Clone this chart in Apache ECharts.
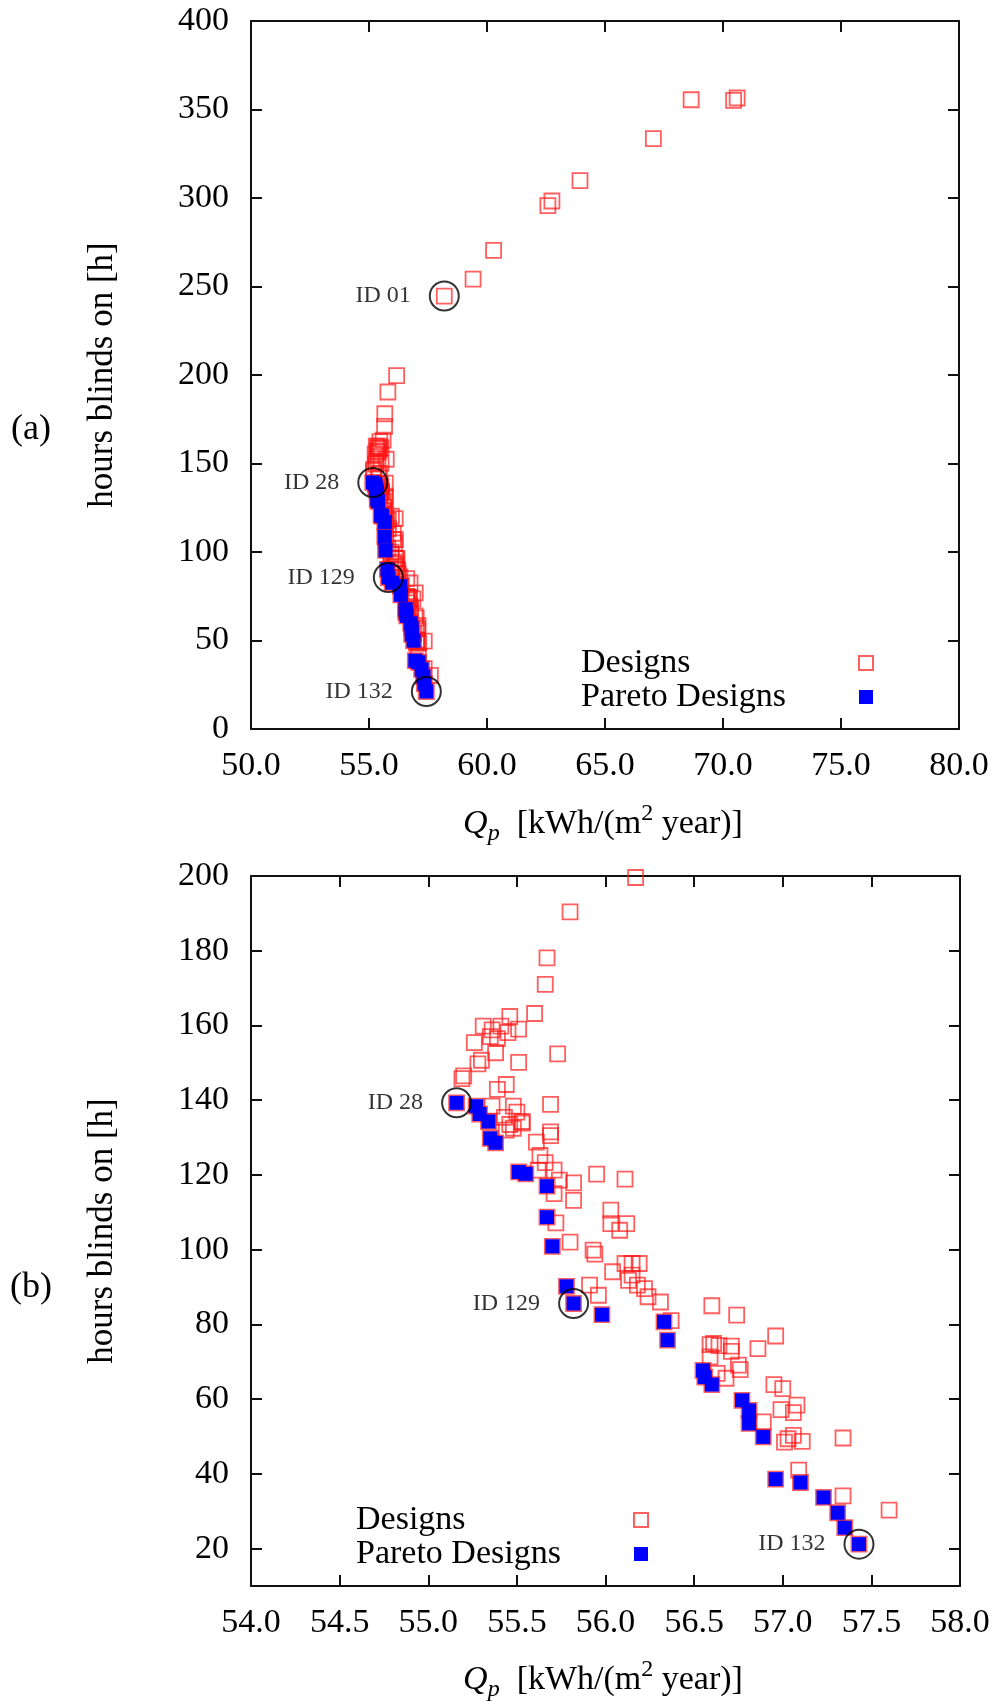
<!DOCTYPE html>
<html>
<head>
<meta charset="utf-8">
<script src="https://cdn.jsdelivr.net/npm/echarts@6/dist/echarts.min.js"></script>
<style>
  html, body { margin: 0; padding: 0; background: #fff; }
  #main { width: 996px; height: 1708px; }
</style>
</head>
<body>
<div id="main"></div>
<script>
// all designs that are not on the Pareto front [Qp, hours]
const designPoints = [
  [70.60, 356.5], [70.45, 355.2], [68.65, 355.5], [67.05, 333.5], [63.94, 309.8],
  [62.75, 298.3], [62.58, 295.7], [60.28, 270.4], [59.41, 254.2], [58.19, 244.6],
  [56.17, 199.6], [55.80, 190.4], [55.67, 178.1], [55.66, 171.0], [55.60, 163.2],
  [55.46, 162.4], [55.31, 159.8], [55.41, 159.8], [55.51, 159.0], [55.36, 158.8],
  [55.45, 158.1], [55.35, 157.0], [55.39, 156.5], [55.26, 155.4], [55.38, 152.7],
  [55.73, 152.4], [55.51, 150.1], [55.30, 150.7], [55.28, 149.7], [55.20, 146.5],
  [55.19, 145.8], [55.44, 144.2], [55.39, 142.9], [55.69, 138.9], [55.36, 138.4],
  [55.48, 138.4], [55.50, 136.8], [55.43, 135.4], [55.53, 134.3], [55.46, 133.5],
  [55.53, 133.9], [55.48, 132.5], [55.44, 132.0], [55.69, 131.5], [55.69, 130.5],
  [55.61, 128.8], [55.63, 125.2], [55.66, 123.3], [55.62, 121.3], [55.71, 121.3],
  [55.74, 118.6], [55.82, 117.9], [55.95, 120.2], [56.11, 118.9], [55.71, 115.0],
  [55.82, 113.2], [56.03, 110.6], [56.03, 107.0], [56.12, 107.0], [56.08, 105.2],
  [55.72, 107.2], [55.80, 102.0], [55.93, 99.9], [55.94, 98.8], [56.04, 94.1],
  [56.11, 96.3], [56.15, 96.3], [56.19, 96.3], [56.15, 93.2], [56.13, 91.8],
  [56.18, 90.5], [56.22, 89.6], [56.24, 87.4], [56.31, 86.0], [55.91, 90.5],
  [55.96, 87.8], [56.37, 81.0], [56.60, 85.0], [56.74, 82.5], [56.96, 76.9],
  [56.86, 73.5], [56.59, 74.6], [56.61, 74.9], [56.64, 74.3], [56.71, 74.2],
  [56.71, 72.8], [56.59, 71.3], [56.75, 69.1], [56.76, 67.9], [56.63, 66.9],
  [56.68, 65.6], [56.95, 63.9], [57.00, 62.8], [56.89, 53.9], [56.99, 57.2],
  [57.06, 56.4], [57.08, 58.4], [57.03, 49.4], [57.06, 50.3], [57.11, 48.7],
  [57.01, 48.5], [57.34, 49.6], [57.09, 41.0], [57.34, 34.1], [57.60, 30.3]
];
// Pareto designs
const paretoPoints = [
  [55.16, 139.3], [55.27, 138.4], [55.29, 136.3], [55.34, 134.3], [55.35, 129.8],
  [55.38, 128.6], [55.51, 120.8], [55.55, 120.3], [55.67, 117.0], [55.67, 108.7],
  [55.70, 100.9], [55.78, 90.2], [55.82, 85.6], [55.98, 82.6], [56.33, 80.7],
  [56.35, 75.8], [56.55, 67.7], [56.56, 65.9], [56.60, 63.9], [56.77, 59.7],
  [56.81, 57.0], [56.81, 53.5], [56.89, 49.9], [56.96, 38.6], [57.10, 37.7],
  [57.23, 33.7], [57.31, 29.6], [57.35, 25.6], [57.43, 21.2]
];
// highlighted designs
const idNames = ['ID 01', 'ID 28', 'ID 129', 'ID 132'];
const idQp = [58.19, 55.16, 55.82, 57.43];
const idHours = [244.6, 139.3, 85.6, 21.2];

// tick values
const xTicksA = [50, 55, 60, 65, 70, 75, 80];
const yTicksA = [0, 50, 100, 150, 200, 250, 300, 350, 400];
const xTicksB = [54, 54.5, 55, 55.5, 56, 56.5, 57, 57.5, 58];
const yTicksB = [20, 40, 60, 80, 100, 120, 140, 160, 180, 200];

const FONT = 'Liberation Serif';
const chart = echarts.init(document.getElementById('main'));

function xAxis(gridIndex, ticks, min, max, pos) {
  return {
    type: 'value', gridIndex: gridIndex, position: pos, min: min, max: max,
    axisLine: { show: true, onZero: false, lineStyle: { color: '#111', width: 2 } },
    axisTick: { show: true, inside: true, length: 11, customValues: ticks, lineStyle: { color: '#111', width: 2 } },
    axisLabel: {
      show: pos === 'bottom', customValues: ticks, margin: 20,
      fontFamily: FONT, fontSize: 34, color: '#000',
      formatter: v => v.toFixed(1)
    },
    splitLine: { show: false }
  };
}
function yAxis(gridIndex, ticks, min, max, pos) {
  return {
    type: 'value', gridIndex: gridIndex, position: pos, min: min, max: max,
    axisLine: { show: true, onZero: false, lineStyle: { color: '#111', width: 2 } },
    axisTick: { show: true, inside: true, length: 11, customValues: ticks, lineStyle: { color: '#111', width: 2 } },
    axisLabel: {
      show: pos === 'left', customValues: ticks, margin: 22,
      fontFamily: FONT, fontSize: 34, color: '#000'
    },
    splitLine: { show: false }
  };
}

function seriesFor(g) {
  return [
    {
      name: 'Designs', type: 'scatter', xAxisIndex: 2 * g, yAxisIndex: 2 * g,
      data: designPoints.concat(paretoPoints),
      symbol: 'rect', symbolSize: 15, z: 2,
      itemStyle: { color: 'rgba(255,255,255,0)', borderColor: 'rgba(255,20,20,0.85)', borderWidth: 1.8 }
    },
    {
      name: 'Pareto Designs', type: 'scatter', xAxisIndex: 2 * g, yAxisIndex: 2 * g,
      data: paretoPoints,
      symbol: 'rect', symbolSize: 14, z: 3,
      itemStyle: { color: '#0000ff', opacity: 1 }
    },
    {
      name: 'ids', type: 'scatter', xAxisIndex: 2 * g, yAxisIndex: 2 * g,
      data: idNames.map((n, i) => ({ name: n, value: [idQp[i], idHours[i]] })),
      symbol: 'circle', symbolSize: 29, z: 4,
      itemStyle: { color: 'rgba(255,255,255,0)', borderColor: '#000', borderWidth: 2 },
      label: {
        show: true, position: 'left', distance: 18, formatter: '{b}',
        fontFamily: FONT, fontSize: 24, color: '#000'
      }
    }
  ];
}

function legendFor(left, top) {
  return {
    left: left, top: top, orient: 'vertical', align: 'right', padding: 0,
    itemWidth: 14, itemHeight: 14, itemGap: 0, selectedMode: false,
    data: ['Designs', 'Pareto Designs'],
    formatter: '{t|{name}}',
    textStyle: {
      rich: { t: { width: 273, align: 'left', fontFamily: FONT, fontSize: 34, lineHeight: 36, color: '#000' } }
    }
  };
}

const xTitle = '{q|Q}{p|p}{n|  [kWh/(m}{s|2}{n| year)]}';
const xTitleRich = {
  q: { fontFamily: FONT, fontStyle: 'italic', fontSize: 34, lineHeight: 44 },
  p: { fontFamily: FONT, fontStyle: 'italic', fontSize: 24, lineHeight: 24, verticalAlign: 'bottom' },
  n: { fontFamily: FONT, fontSize: 34, lineHeight: 44 },
  s: { fontFamily: FONT, fontSize: 24, lineHeight: 24, verticalAlign: 'top' }
};

function txt(x, y, text, size, rot) {
  return {
    type: 'text', x: x, y: y, rotation: rot || 0,
    style: { text: text, fontFamily: FONT, fontSize: size, fill: '#000', align: 'center', verticalAlign: 'middle' }
  };
}

const option = {
  animation: false,
  backgroundColor: '#fff',
  grid: [
    { left: 251, top: 21, width: 708, height: 708 },
    { left: 251, top: 876, width: 709, height: 710 }
  ],
  xAxis: [
    xAxis(0, xTicksA, 50, 80, 'bottom'),
    xAxis(0, xTicksA, 50, 80, 'top'),
    xAxis(1, xTicksB, 54, 58, 'bottom'),
    xAxis(1, xTicksB, 54, 58, 'top')
  ],
  yAxis: [
    yAxis(0, yTicksA, 0, 400, 'left'),
    yAxis(0, yTicksA, 0, 400, 'right'),
    yAxis(1, yTicksB, 10, 200, 'left'),
    yAxis(1, yTicksB, 10, 200, 'right')
  ],
  legend: [legendFor(581, 646), legendFor(356, 1503)],
  series: seriesFor(0).concat(seriesFor(1)),
  graphic: [
    txt(103, 375, 'hours blinds on [h]', 35, Math.PI / 2),
    txt(103, 1231, 'hours blinds on [h]', 35, Math.PI / 2),
    txt(31, 430, '(a)', 36),
    txt(31, 1288, '(b)', 36),
    { type: 'text', x: 603, y: 824, style: { text: xTitle, rich: xTitleRich, fill: '#000', align: 'center', verticalAlign: 'middle' } },
    { type: 'text', x: 603, y: 1680, style: { text: xTitle, rich: xTitleRich, fill: '#000', align: 'center', verticalAlign: 'middle' } }
  ]
};
chart.setOption(option);
</script>
</body>
</html>
